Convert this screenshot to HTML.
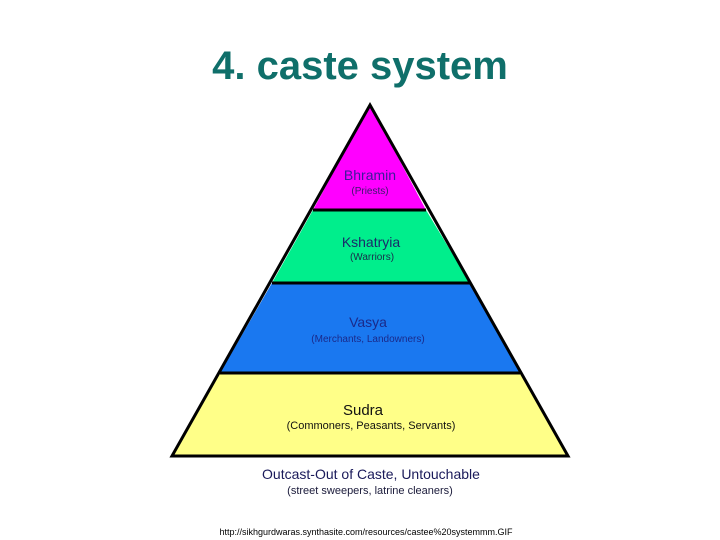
<!DOCTYPE html>
<html><head><style>
body{margin:0;width:720px;height:540px;background:#fff;overflow:hidden;position:relative;font-family:"Liberation Sans",sans-serif}
.t{position:absolute;left:0;width:720px;text-align:center;white-space:nowrap}
</style></head><body>
<div class="t" style="top:44px;font-size:40px;font-weight:bold;color:#0f6f6a;left:0">4. caste system</div>
<svg width="720" height="540" style="position:absolute;left:0;top:0">
<polygon points="370,105 313,210 426,210" fill="#ff00ff"/>
<polygon points="313,210 426,210 470,283 272,283" fill="#00ee8c"/>
<polygon points="272,283 470,283 520,373 220,373" fill="#1a78f0"/>
<polygon points="220,373 520,373 568,456 172,456" fill="#ffff88"/>
<polygon points="370,105 568,456 172,456" fill="none" stroke="#000" stroke-width="3"/>
<line x1="313" y1="210" x2="426" y2="210" stroke="#000" stroke-width="3"/>
<line x1="272" y1="283" x2="470" y2="283" stroke="#000" stroke-width="3"/>
<line x1="220" y1="373" x2="520" y2="373" stroke="#000" stroke-width="3"/>
<g font-family="Liberation Sans,sans-serif" text-anchor="middle">
<text x="370" y="180" font-size="14" fill="#3a1a9a">Bhramin</text>
<text x="370" y="194" font-size="10" fill="#3a1a6a">(Priests)</text>
<text x="371" y="247" font-size="14" fill="#1a2a6a">Kshatryia</text>
<text x="372" y="260" font-size="10" fill="#1a2a4a">(Warriors)</text>
<text x="368" y="327" font-size="14" fill="#1a2a8a">Vasya</text>
<text x="368" y="342" font-size="10" fill="#1a2a8a">(Merchants, Landowners)</text>
<text x="363" y="415" font-size="15" fill="#111">Sudra</text>
<text x="371" y="429" font-size="11" fill="#111">(Commoners, Peasants, Servants)</text>
<text x="371" y="479" font-size="14" fill="#1a1a5a">Outcast-Out of Caste, Untouchable</text>
<text x="370" y="494" font-size="11" fill="#1a1a3a">(street sweepers, latrine cleaners)</text>
<text x="366" y="535" font-size="9" fill="#000">http://sikhgurdwaras.synthasite.com/resources/castee%20systemmm.GIF</text>
</g>
</svg>
</body></html>
